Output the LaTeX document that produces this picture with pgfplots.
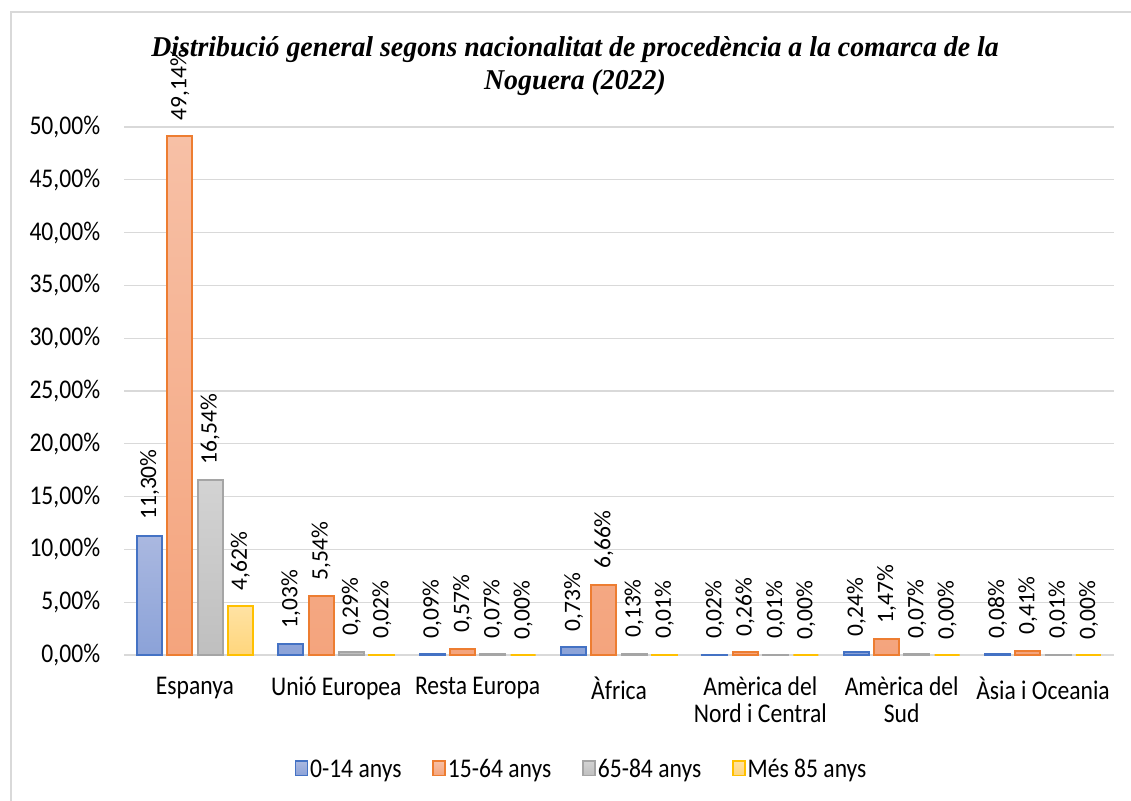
\documentclass[border=0pt]{standalone}
\usepackage{fontspec}
\setmainfont{Carlito}[FakeStretch=0.874]
\newfontfamily\labfont{Carlito}
\newfontfamily\titlefont{Liberation Serif}[FakeStretch=0.97]
\usepackage{pgfplots}
\pgfplotsset{compat=1.18}
\definecolor{gridc}{HTML}{D9D9D9}
\definecolor{bline}{HTML}{4472C4}
\definecolor{btop}{HTML}{AAB8E0}
\definecolor{bbot}{HTML}{8BA2D8}
\definecolor{oline}{HTML}{ED7D31}
\definecolor{otop}{HTML}{F7C0A6}
\definecolor{obot}{HTML}{F4A47D}
\definecolor{gline}{HTML}{A5A5A5}
\definecolor{gtop}{HTML}{D3D3D3}
\definecolor{gbot}{HTML}{BFBFBF}
\definecolor{yline}{HTML}{FFC000}
\definecolor{ytop}{HTML}{FFE2A3}
\definecolor{ybot}{HTML}{FFD67C}
\begin{document}
\begin{tikzpicture}
\useasboundingbox (0,0) rectangle (1131pt,800pt);
\begin{scope}
\clip (0,0) rectangle (1131pt,800pt);
\draw[gridc, line width=1.5pt] (11pt,-20pt) rectangle (1160pt,788pt);
\end{scope}
\node[align=center, font=\titlefont\bfseries\itshape\fontsize{28.7}{33}\selectfont] at (575pt,734pt)
  {Distribució general segons nacionalitat de procedència a la comarca de la\\Noguera (2022)};
\begin{axis}[
  at={(124.3pt,145pt)}, anchor=south west,
  width=989.4pt, height=528pt, scale only axis,
  xmin=-0.5, xmax=6.5, ymin=0, ymax=50,
  clip=false,
  ybar=5.3pt, bar width=25pt,
  axis x line*=bottom, axis y line*=left,
  x axis line style={draw=gridc, line width=1.5pt, -},
  y axis line style={draw=none},
  major tick length=0pt,
  ymajorgrids, grid style={draw=gridc, line width=1.3pt},
  ytick={0,5,...,50},
  yticklabels={{0,00\%},{5,00\%},{10,00\%},{15,00\%},{20,00\%},{25,00\%},{30,00\%},{35,00\%},{40,00\%},{45,00\%},{50,00\%}},
  xtick={0,...,6},
  xticklabels={Espanya,Unió Europea,Resta Europa,Àfrica,{Amèrica del\\Nord i Central},{Amèrica del\\Sud},Àsia i Oceania},
  tick label style={font=\fontsize{27}{27}\selectfont, inner sep=0pt},
  yticklabel style={anchor=east, xshift=-24pt},
  xticklabel style={anchor=north, align=center, yshift=-22pt},
  /pgf/number format/assume math mode=true,
  nodes near coords={\pgfmathprintnumber[fixed,fixed zerofill,precision=2,use comma]{\pgfplotspointmeta}\%},
  every node near coord/.append style={font=\labfont\fontsize{23.5}{23.5}\selectfont, rotate=90, anchor=west, inner xsep=15pt, inner ysep=0pt, text=black},
  legend columns=4,
  legend style={draw=none, fill=none, at={(0.4616,-0.216)}, anchor=center,
    font=\fontsize{27}{27}\selectfont,
    /tikz/every odd column/.append style={column sep=1pt},
    /tikz/every even column/.append style={column sep=30pt},
    nodes={inner sep=1pt}},
  legend image code/.code={\draw[#1, line width=1.5pt] (0pt,-6.5pt) rectangle (12pt,8pt);},
  every axis plot/.append style={line width=2pt},
]
\addplot[draw=bline, top color=btop, bottom color=bbot] coordinates {(0,11.30) (1,1.03) (2,0.09) (3,0.73) (4,0.02) (5,0.24) (6,0.08)};
\addplot[draw=oline, top color=otop, bottom color=obot] coordinates {(0,49.14) (1,5.54) (2,0.57) (3,6.66) (4,0.26) (5,1.47) (6,0.41)};
\addplot[draw=gline, top color=gtop, bottom color=gbot] coordinates {(0,16.54) (1,0.29) (2,0.07) (3,0.13) (4,0.01) (5,0.07) (6,0.01)};
\addplot[draw=yline, top color=ytop, bottom color=ybot] coordinates {(0,4.62) (1,0.02) (2,0.00) (3,0.01) (4,0.00) (5,0.00) (6,0.00)};
\legend{0-14 anys,15-64 anys,65-84 anys,Més 85 anys}
\end{axis}
\end{tikzpicture}
\end{document}
